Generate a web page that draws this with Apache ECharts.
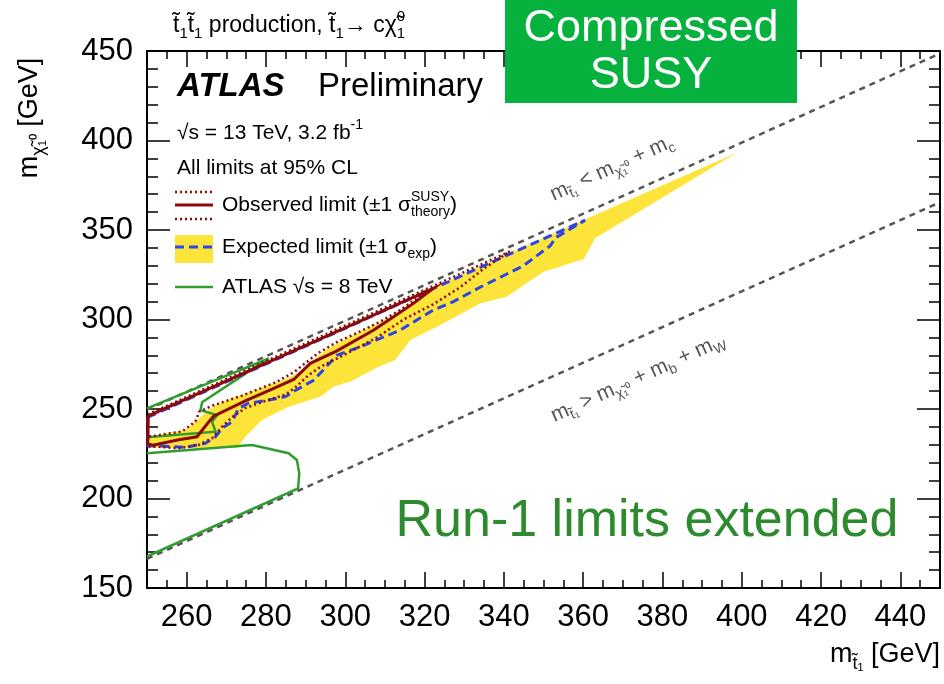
<!DOCTYPE html>
<html>
<head>
<meta charset="utf-8">
<script src="https://cdn.jsdelivr.net/npm/echarts@6.0.0/dist/echarts.min.js"></script>
<style>
  html, body { margin: 0; padding: 0; background: #fff; }
  #chart { width: 944px; height: 684px; }
</style>
</head>
<body>
<div id="chart"></div>
<script>
// tick labels
var xMajorTicks = [260, 280, 300, 320, 340, 360, 380, 400, 420, 440]
var yMajorStep = 50

// kinematic boundaries: m_t = m_chi + m_c  and  m_t = m_chi + m_b + m_W
var mcBoundary = [[250, 249.6], [450, 448.6]]
var mbwBoundary = [[250, 166.3], [450, 365.5]]

// expected limit +-1 sigma band (upper edge then lower edge)
var expBandUpper = [[250, 234.4], [259.7, 238.3], [264.7, 247.8], [267.3, 252.2], [271.5, 256.1], [277.3, 260.6],
  [285.6, 267.3], [289.1, 271.8], [295, 283], [301.3, 290.5], [308, 297.5], [313.9, 305], [319, 313], [324, 319.6],
  [340, 335.8], [360, 355.4], [398.7, 393.2]]
var expBandLower = [[398.7, 393.2], [363, 345.4], [360.2, 333.8], [350, 326.7], [340.7, 312.7], [334, 309],
  [323.1, 296], [316.4, 288.5], [312.6, 277.4], [308.4, 273.6], [301.3, 265.3], [297, 262.5], [293.7, 256.9],
  [285.7, 251.3], [279, 243.9], [274.8, 234.5], [272.7, 228.2], [256.7, 228.2], [250, 228.8]]

// expected limit contour
var expContour = [[250.2, 245.4], [360.5, 355.5], [353.3, 346], [351.6, 341], [344.9, 330], [334, 318], [327.3, 310],
  [322.2, 305.3], [313.9, 294.1], [303.8, 284.8], [297.9, 280], [292, 266], [287.5, 260.5], [284.9, 256.9],
  [280.7, 255], [275.6, 253.2], [273.1, 250.4], [271.5, 242.9], [268.9, 239.2], [267.3, 234.5], [264.7, 230.8],
  [259.7, 228.6], [253, 229.3], [250.2, 229.5], [250.2, 245.4]]

// observed limit and +-1 sigma theory
var obsContour = [[250.3, 246.2], [322.2, 317.4], [317.2, 309], [312.2, 301.6], [307.1, 294], [297.9, 282.5],
  [291.2, 275.5], [287, 266.5], [282.4, 262], [274.8, 254.5], [266.8, 246], [265.6, 242.9], [262.6, 234.5],
  [258, 232.8], [251.5, 229.8], [250.2, 230.5], [250.3, 246.2]]
var obsMinus = [[250.2, 245.7], [319.5, 315], [318.5, 312.5], [314, 305.5], [309, 299], [303, 292.5], [298, 287.5],
  [293, 281], [287, 270.5], [282.4, 264.8], [274, 257.5], [266.4, 251.8], [263.2, 248.5], [262.2, 243],
  [258.9, 237.5], [251.3, 234.8], [250.2, 234.8], [250.2, 245.7]]
var obsPlus = [[250.2, 247], [341.5, 338], [335, 328.5], [329, 318], [322.2, 308.5], [314.7, 300], [308, 290],
  [300.4, 281], [293.7, 273.5], [290.8, 269], [287.4, 262], [284.9, 258], [279.8, 254.5], [274.8, 250.5],
  [271.5, 245.5], [268.9, 240], [266.4, 233.6], [263, 229.9], [257.9, 228], [253, 228.9], [250.2, 229], [250.2, 247]]

// ATLAS 8 TeV contour (two pieces)
var atlas8Upper = [[250, 250.3], [280.7, 278.3], [263.9, 253.8], [263.5, 249.4], [267.7, 246.6], [266.4, 242.9],
  [267.3, 237.3], [250, 234.2]]
var atlas8Lower = [[250, 225.3], [276.5, 229.9], [285.7, 225.3], [287.8, 221.5], [288.4, 214.1], [288.1, 205.7],
  [250, 167.6]]

var FONT = '"Liberation Sans", Arial, sans-serif'
var RED = '#8b0a0a'
var YELLOW = '#fde43a'
var BLUE = '#2e45e6'
var GREEN = '#2f9e2f'
var GREY = '#555'

var ctx = document.createElement('canvas').getContext('2d')
function textWidth (s, size) {
  ctx.font = size + 'px ' + FONT
  return ctx.measureText(s).width
}
function txt (s, x, y, size, color, extra, z) {
  return {
    type: 'text', x: x, y: y, z: z || 60,
    style: Object.assign({ text: s, fontSize: size, fontFamily: FONT, fill: color, align: 'left', verticalAlign: 'middle' }, extra || {})
  }
}
// parts: [text, 'n' | 's' | 'p'] or [[sub, sup], 'sp']
function mathText (parts, size, color, anchor) {
  var small = Math.round(size * 0.66)
  var els = []
  var x = 0
  parts.forEach(function (p) {
    var kind = p[1]
    if (kind === 'n') {
      els.push(txt(p[0], x, 0, size, color))
      x += textWidth(p[0], size)
    } else if (kind === 's' || kind === 'p') {
      var dy = kind === 's' ? size * 0.32 : -size * 0.38
      els.push(txt(p[0], x, dy, small, color))
      x += textWidth(p[0], small)
    } else {
      els.push(txt(p[0][0], x, size * 0.32, small, color))
      els.push(txt(p[0][1], x, -size * 0.38, small, color))
      x += Math.max(textWidth(p[0][0], small), textWidth(p[0][1], small))
    }
  })
  var shift = anchor === 'center' ? -x / 2 : (anchor === 'right' ? -x : 0)
  els.forEach(function (e) { e.x += shift })
  return els
}
function group (x, y, rotation, children) {
  return { type: 'group', x: x, y: y, rotation: rotation || 0, children: children }
}

function lineSeries (name, data, color, width, type, z) {
  return {
    name: name, type: 'line', data: data, showSymbol: false, symbol: 'none', silent: true, z: z,
    lineStyle: { color: color, width: width, type: type, cap: 'butt', join: 'miter' }
  }
}

var tickStyle = { color: '#000', width: 1.5 }
function minorX (pos) {
  return {
    type: 'value', position: pos, min: 250, max: 450, interval: 5,
    axisLine: { show: true, onZero: false, lineStyle: { color: '#000', width: 2 } },
    axisTick: { inside: true, length: 8, lineStyle: tickStyle },
    axisLabel: { show: false }, splitLine: { show: false }
  }
}
function majorX (pos, labels) {
  return {
    type: 'value', position: pos, min: 250, max: 450,
    axisLine: { show: false, onZero: false },
    axisTick: { inside: true, length: 16, customValues: xMajorTicks, lineStyle: tickStyle },
    axisLabel: { show: labels, customValues: xMajorTicks, fontSize: 31, fontFamily: FONT, color: '#000', margin: 14 },
    splitLine: { show: false }
  }
}
function minorY (pos) {
  return {
    type: 'value', position: pos, min: 150, max: 450, interval: 10,
    axisLine: { show: true, onZero: false, lineStyle: { color: '#000', width: 2 } },
    axisTick: { inside: true, length: 11, lineStyle: tickStyle },
    axisLabel: { show: false }, splitLine: { show: false }
  }
}
function majorY (pos, labels) {
  return {
    type: 'value', position: pos, min: 150, max: 450, interval: yMajorStep,
    axisLine: { show: false, onZero: false },
    axisTick: { inside: true, length: 23, lineStyle: tickStyle },
    axisLabel: { show: labels, fontSize: 31, fontFamily: FONT, color: '#000', margin: 14 },
    splitLine: { show: false }
  }
}

var chart = echarts.init(document.getElementById('chart'))
var diagAngle = Math.atan(1.79 / 3.965)

var legendX = 222
var graphic = [
  group(173, 26, 0, mathText([['t̃', 'n'], ['1', 's'], ['t̃', 'n'], ['1', 's'], [' production, t̃', 'n'], ['1', 's'],
    ['→ cχ̃', 'n'], [['1', '0'], 'sp']], 23, '#000')),
  txt('ATLAS', 177, 87, 33, '#000', { fontWeight: 'bold', fontStyle: 'italic' }),
  txt('Preliminary', 318, 87, 33, '#000'),
  group(177, 133, 0, mathText([['√s = 13 TeV, 3.2 fb', 'n'], ['-1', 'p']], 21, '#000')),
  txt('All limits at 95% CL', 177, 168, 21, '#000'),
  // legend glyphs
  { type: 'line', z: 60, shape: { x1: 175, y1: 192, x2: 213, y2: 192 }, style: { stroke: RED, lineWidth: 2.5, lineDash: [2, 3] } },
  { type: 'line', z: 60, shape: { x1: 175, y1: 205, x2: 213, y2: 205 }, style: { stroke: RED, lineWidth: 3 } },
  { type: 'line', z: 60, shape: { x1: 175, y1: 219, x2: 213, y2: 219 }, style: { stroke: RED, lineWidth: 2.5, lineDash: [2, 3] } },
  group(legendX, 205, 0, mathText([['Observed limit (±1 σ', 'n'], [['theory', 'SUSY'], 'sp'], [')', 'n']], 21, '#000')),
  { type: 'rect', z: 60, shape: { x: 175, y: 235, width: 38, height: 28 }, style: { fill: YELLOW } },
  { type: 'line', z: 61, shape: { x1: 175, y1: 247, x2: 213, y2: 247 }, style: { stroke: BLUE, lineWidth: 3, lineDash: [9, 5] } },
  group(legendX, 247, 0, mathText([['Expected limit (±1 σ', 'n'], ['exp', 's'], [')', 'n']], 21, '#000')),
  { type: 'line', z: 60, shape: { x1: 175, y1: 287, x2: 213, y2: 287 }, style: { stroke: GREEN, lineWidth: 2.5 } },
  txt('ATLAS √s = 8 TeV', legendX, 287, 21, '#000'),
  // kinematic boundary labels
  group(612, 168, diagAngle, mathText([['m', 'n'], ['t̃₁', 's'], [' < m', 'n'], ['χ̃₁⁰', 's'], [' + m', 'n'], ['c', 's']], 21, GREY, 'center')),
  group(638, 378, diagAngle, mathText([['m', 'n'], ['t̃₁', 's'], [' > m', 'n'], ['χ̃₁⁰', 's'], [' + m', 'n'], ['b', 's'],
    [' + m', 'n'], ['W', 's']], 21, GREY, 'center')),
  // axis titles
  group(940, 655, 0, mathText([['m', 'n'], ['t̃₁', 's'], [' [GeV]', 'n']], 27, '#000', 'right')),
  group(30, 118, Math.PI / 2, mathText([['m', 'n'], ['χ̃₁⁰', 's'], [' [GeV]', 'n']], 27, '#000', 'center')),
  // annotations
  { type: 'rect', z: 80, shape: { x: 505, y: 0, width: 292, height: 103 }, style: { fill: '#06b23d' } },
  txt('Compressed', 651, 29, 45, '#fff', { align: 'center' }, 90),
  txt('SUSY', 651, 76, 45, '#fff', { align: 'center' }, 90),
  txt('Run-1 limits extended', 647, 522, 52, '#2d8a2d', { align: 'center' }, 90)
]

chart.setOption({
  animation: false,
  backgroundColor: '#fff',
  grid: { left: 147, right: 4, top: 51, bottom: 96, show: false },
  xAxis: [minorX('bottom'), majorX('bottom', true), minorX('top'), majorX('top', false)],
  yAxis: [minorY('left'), majorY('left', true), minorY('right'), majorY('right', false)],
  series: [
    {
      name: 'expBand', type: 'custom', silent: true, z: 1, clip: true,
      data: [[300, 300]],
      renderItem: function (params, api) {
        var pts = expBandUpper.concat(expBandLower).map(function (p) { return api.coord(p) })
        return { type: 'polygon', shape: { points: pts }, style: { fill: YELLOW } }
      }
    },
    lineSeries('mcBoundary', mcBoundary, GREY, 2.5, [6, 5], 2),
    lineSeries('mbwBoundary', mbwBoundary, GREY, 2.5, [6, 5], 2),
    lineSeries('atlas8Upper', atlas8Upper, GREEN, 2.5, 'solid', 3),
    lineSeries('atlas8Lower', atlas8Lower, GREEN, 2.5, 'solid', 3),
    lineSeries('expected', expContour, BLUE, 3, [9, 5], 4),
    lineSeries('obsPlus', obsPlus, RED, 2.5, [2, 3], 5),
    lineSeries('obsMinus', obsMinus, RED, 2.5, [2, 3], 5),
    lineSeries('observed', obsContour, RED, 3, 'solid', 6)
  ],
  graphic: graphic
})
</script>
</body>
</html>
